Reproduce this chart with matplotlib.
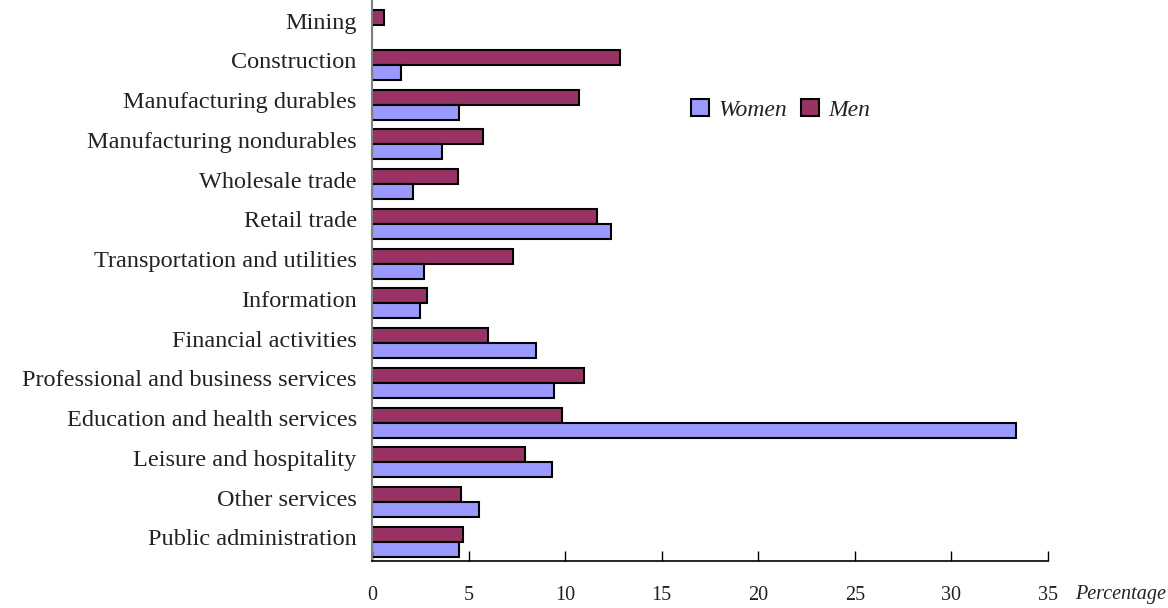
import matplotlib
matplotlib.use("Agg")
import matplotlib.pyplot as plt
import matplotlib.transforms as mtransforms
import numpy as np

categories = ["Mining", "Construction", "Manufacturing durables", "Manufacturing nondurables",
              "Wholesale trade", "Retail trade", "Transportation and utilities", "Information",
              "Financial activities", "Professional and business services",
              "Education and health services", "Leisure and hospitality", "Other services",
              "Public administration"]
women = [0.0, 1.5, 4.5, 3.6, 2.1, 12.4, 2.7, 2.5, 8.5, 9.4, 33.35, 9.3, 5.55, 4.5]
men = [0.6, 12.85, 10.7, 5.75, 4.45, 11.65, 7.3, 2.85, 6.0, 11.0, 9.85, 7.9, 4.6, 4.7]
xticks = [0, 5, 10, 15, 20, 25, 30, 35]

plt.rcParams['font.family'] = ['Liberation Serif', 'DejaVu Serif']
txtcol = '#222222'

fig = plt.figure(figsize=(11.68, 6.08), dpi=100)
ax = fig.add_axes([372/1168, 1 - 561/608, (1048 - 372)/1168, 561/608])

y = np.arange(len(categories))
h = 0.377
ax.barh(y - h/2, men, height=h, color="#993366", edgecolor="black", linewidth=1.5, label="Men")
ax.barh(y + h/2, women, height=h, color="#9999FF", edgecolor="black", linewidth=1.5, label="Women")

ax.set_ylim(len(categories) - 1 + 0.478, -0.629)
ax.set_xlim(0, 35)
ax.set_yticks(y)
ax.set_yticklabels(categories, fontsize=17.5, color=txtcol)
ax.tick_params(axis='y', length=0, pad=11)
offset = mtransforms.ScaledTranslation(0, 4.5/100, fig.dpi_scale_trans)
for lab in ax.get_yticklabels():
    lab.set_transform(lab.get_transform() + offset)
ax.set_xticks(xticks)
ax.set_xticklabels([str(t) for t in xticks], fontsize=14.5, color=txtcol)
ax.tick_params(axis='x', direction='in', length=7, width=1, pad=18)

for s in ['top', 'right']:
    ax.spines[s].set_visible(False)
ax.spines['left'].set_color('#808080')
ax.spines['left'].set_linewidth(1.5)
ax.spines['bottom'].set_linewidth(1.2)

fig.text(1075/1168, 1 - 594/608, "Percentage", fontsize=14.5, style='italic', va='center', ha='left',
         color=txtcol)

handles, labels = ax.get_legend_handles_labels()
leg = ax.legend(handles[::-1], labels[::-1], loc='center', bbox_to_anchor=((781-372)/676, 1 - 110/561),
                ncol=2, frameon=False, prop={'style': 'italic', 'size': 17},
                handlelength=0.75, handleheight=0.75, handletextpad=0.4, columnspacing=0.6)
for t in leg.get_texts():
    t.set_color(txtcol)

fig.savefig("out.png", dpi=100)
